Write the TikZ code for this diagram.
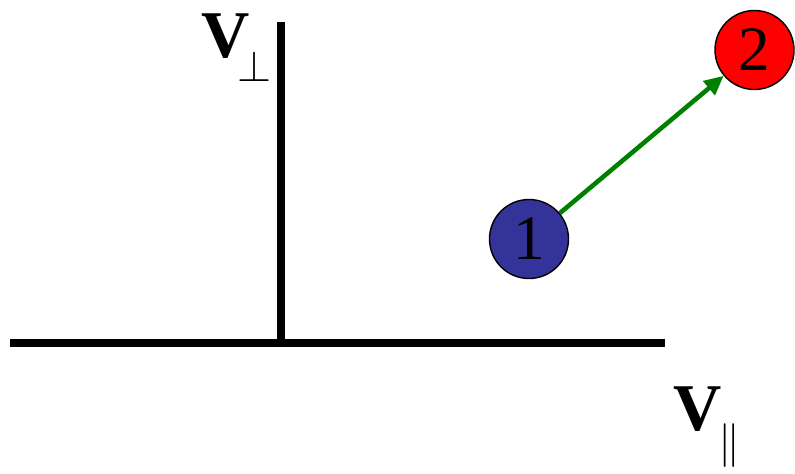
\documentclass[tikz,border=0pt]{standalone}
\usepackage{fontspec}
\setmainfont{Liberation Serif}
\usepackage{tikz}
\usetikzlibrary{arrows.meta}
\definecolor{StateBlue}{RGB}{51,51,153}
\definecolor{StateRed}{RGB}{255,0,0}
\definecolor{JumpGreen}{RGB}{0,128,0}

\begin{document}
\begin{tikzpicture}[
  axis/.style={line width=4pt},
  state/.style={circle,draw=black,line width=0.8pt,minimum size=1.58cm,inner sep=0pt,
                font=\fontsize{36}{38}\selectfont},
  vlabel/.style={anchor=base west,inner sep=0pt,font=\fontsize{38}{40}\selectfont\bfseries},
]
\useasboundingbox (0,0) rectangle (15.9,9.46);
% axes
\coordinate (origin) at (5.62,2.6);
\coordinate (xend) at (13.3,2.6);
\coordinate (xstart) at (0.2,2.6);
\coordinate (ytop) at (5.62,9.02);
\draw[axis] (xstart) -- (xend);
\draw[axis] (origin) -- (ytop);
\node[vlabel] (vperp) at (4.02,8.3)
  {V\kern-7pt\raisebox{-13.6pt}{\fontsize{32}{32}\selectfont$\perp$}};
\node[vlabel] (vpar) at (13.46,0.86)
  {V\kern-2pt\raisebox{-15pt}{\fontsize{30}{30}\selectfont$\parallel$}};
% states
\node[state,fill=StateBlue] (s1) at (10.58,4.68) {1};
\node[state,fill=StateRed] (s2) at (15.09,8.46) {2};
\draw[JumpGreen,line width=2.6pt,-{Triangle[length=11pt,width=10pt]}] (s1) -- (s2);
\end{tikzpicture}
\end{document}
